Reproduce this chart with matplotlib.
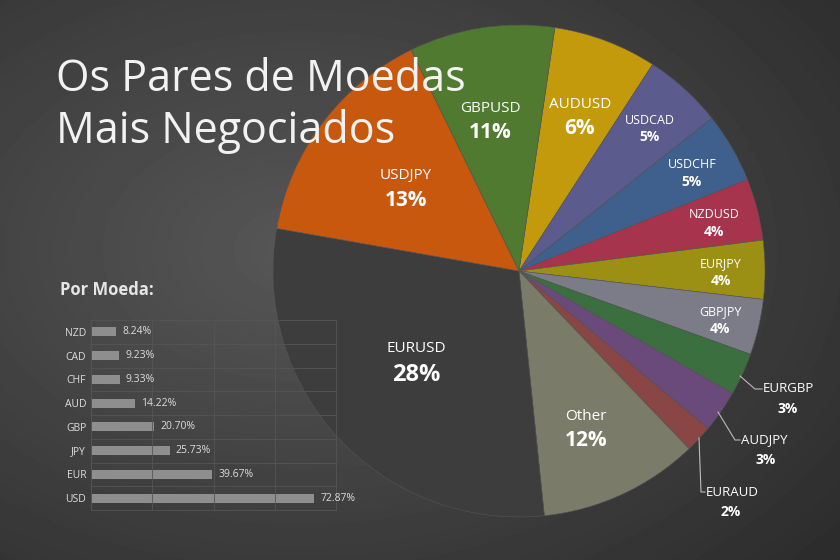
import numpy as np
import matplotlib.pyplot as plt

pairs = ["AUDUSD", "USDCAD", "USDCHF", "NZDUSD", "EURJPY", "GBPJPY", "EURGBP",
         "AUDJPY", "EURAUD", "Other", "EURUSD", "USDJPY", "GBPUSD"]
# slice sizes as drawn in the picture
shares = [6.8, 5.2, 4.6, 4.05, 3.85, 3.65, 2.8, 2.75, 1.8, 10.5, 29.4, 15.0, 9.55]
# percentages printed on the slices
share_labels = [6, 5, 5, 4, 4, 4, 3, 3, 2, 12, 28, 13, 11]
pair_colors = ["#c39a0b", "#5b5b8d", "#3f5f8c", "#a7344d", "#9b8f14", "#7b7c88",
               "#3b6f40", "#6a4a7b", "#8a4545", "#7b7b69", "#3d3d3d", "#c9580f", "#4f7a2f"]

currencies = ["NZD", "CAD", "CHF", "AUD", "GBP", "JPY", "EUR", "USD"]
cur_share = [8.24, 9.23, 9.33, 14.22, 20.70, 25.73, 39.67, 72.87]

W, H = 840, 560
fig = plt.figure(figsize=(W / 100, H / 100), dpi=100)
plt.rcParams["font.family"] = "Open Sans"

# background radial gradient
bg = fig.add_axes([0, 0, 1, 1])
yy, xx = np.mgrid[0:H, 0:W]
d = np.hypot((xx - 300) / W, (yy - 250) / H)
bg.imshow(0.34 - 0.2 * d, cmap="gray", vmin=0, vmax=1, aspect="auto")
bg.axis("off")

# pie
cx, cy, r = 519, 271, 246
pax = fig.add_axes([(cx - r) / W, 1 - (cy + r) / H, 2 * r / W, 2 * r / H])
wedges, _ = pax.pie(shares, colors=pair_colors, startangle=81.6, counterclock=False,
                    wedgeprops=dict(linewidth=0.4, edgecolor="#555555"))
pax.set_xlim(-1, 1)
pax.set_ylim(-1, 1)
pax.set_aspect("auto")


def px(x, y):
    return (x - cx) / r, (cy - y) / r


# label positions in pixels (name centre)
inside = {"AUDUSD": (580, 104), "USDCAD": (650, 120), "USDCHF": (692, 165),
          "NZDUSD": (714, 215), "EURJPY": (721, 264), "GBPJPY": (720, 312),
          "Other": (586, 416), "EURUSD": (416, 348), "USDJPY": (406, 176),
          "GBPUSD": (490, 108)}
big = {"Other", "EURUSD", "USDJPY", "GBPUSD", "AUDUSD"}
for name, lab in zip(pairs, share_labels):
    if name in inside:
        x, y = px(*inside[name])
        if name in big:
            fs1, fs2, gap = 11, 15, 0.1
        else:
            fs1, fs2, gap = 9, 10, 0.07
        if name == "EURUSD":
            fs2, gap = 17, 0.11
        pax.text(x, y, name, color="white", ha="center", va="center", fontsize=fs1)
        pax.text(x, y - gap, f"{lab}%", color="white", ha="center", va="center",
                 fontsize=fs2, fontweight="bold")

# outside labels with leader lines
outside = {"EURGBP": ((740, 376), (755, 389), 762),
           "AUDJPY": ((718, 412), (735, 440), 740),
           "EURAUD": ((699, 438), (701, 492), 705)}
for name, lab in zip(pairs, share_labels):
    if name in outside:
        (x0, y0), (x1, y1), tx = outside[name]
        xs = [px(x0, y0)[0], px(x1, y1)[0], px(tx, y1)[0]]
        ys = [px(x0, y0)[1], px(x1, y1)[1], px(tx, y1)[1]]
        pax.plot(xs, ys, color="#bbbbbb", lw=0.8, clip_on=False)
        a, b = px(tx + 1, y1)
        pax.text(a, b, name, color="white", fontsize=9.5, va="center", ha="left")
        a, b = px(tx + 26, y1 + 20)
        pax.text(a, b, f"{lab}%", color="white", fontsize=10, fontweight="bold",
                 va="center", ha="center")

# title
fig.text(56 / W, 1 - 80 / H, "Os Pares de Moedas", color="#f2f2f2", fontsize=31, va="center")
fig.text(56 / W, 1 - 132 / H, "Mais Negociados", color="#f2f2f2", fontsize=31, va="center")
fig.text(60 / W, 1 - 290 / H, "Por Moeda:", color="#e6e6e6", fontsize=12, fontweight="bold", va="center")

# bar chart
bax = fig.add_axes([91 / W, 1 - 510 / H, 245 / W, 190 / H])
bax.set_facecolor("none")
ypos = np.arange(len(currencies))[::-1]
bax.barh(ypos, cur_share, height=0.38, color="#8e8e8e")
for yp, v in zip(ypos, cur_share):
    bax.text(v + 2, yp, f"{v:.2f}%", color="#dddddd", fontsize=7.5, va="center")
bax.set_yticks(ypos)
bax.set_yticklabels(currencies, color="#dddddd", fontsize=7.5)
bax.set_xlim(0, 80)
bax.set_ylim(-0.5, len(currencies) - 0.5)
bax.set_xticks([0, 20, 40, 60, 80])
bax.set_xticklabels([])
bax.set_yticks(np.arange(len(currencies)) - 0.5, minor=True)
bax.grid(True, axis="x", color="#555555", lw=0.6)
bax.grid(True, axis="y", which="minor", color="#555555", lw=0.6)
bax.tick_params(length=0, which="both")
for s in bax.spines.values():
    s.set_color("#555555")
    s.set_linewidth(0.6)

fig.savefig("out.png", dpi=100)
